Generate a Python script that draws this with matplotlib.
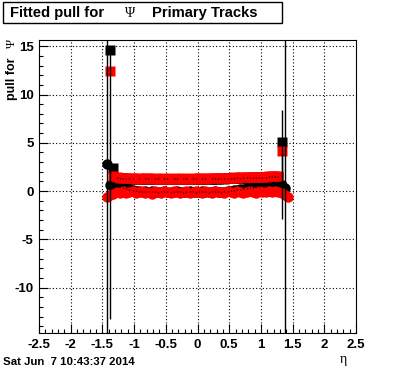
import numpy as np
import matplotlib
matplotlib.use("Agg")
import matplotlib.pyplot as plt
from matplotlib.ticker import MultipleLocator

# bin centres in eta
eta = [-1.425, -1.375, -1.325, -1.275, -1.225, -1.175, -1.125, -1.075, -1.025, -0.975,
       -0.925, -0.875, -0.825, -0.775, -0.725, -0.675, -0.625, -0.575, -0.525, -0.475,
       -0.425, -0.375, -0.325, -0.275, -0.225, -0.175, -0.125, -0.075, -0.025, 0.025,
       0.075, 0.125, 0.175, 0.225, 0.275, 0.325, 0.375, 0.425, 0.475, 0.525,
       0.575, 0.625, 0.675, 0.725, 0.775, 0.825, 0.875, 0.925, 0.975, 1.025,
       1.075, 1.125, 1.175, 1.225, 1.275, 1.325, 1.375, 1.425]
nan = float("nan")

# black: fitted mean (circles) and sigma (squares)
black_mean = [2.8, 0.6, 0.55, 0.5, 0.45, 0.4, 0.3, 0.2, 0.1, 0.05,
              0.0, -0.05, 0.0, -0.05, 0.0, -0.05, -0.1, -0.05, 0.0, -0.05,
              -0.1, -0.05, 0.0, -0.05, -0.1, -0.05, 0.0, -0.05, -0.1, -0.05,
              0.0, -0.05, -0.1, -0.05, 0.0, -0.05, -0.1, -0.05, 0.0, 0.05,
              0.1, 0.15, 0.2, 0.25, 0.3, 0.35, 0.4, 0.45, 0.5, 0.55,
              0.6, 0.7, 0.75, 0.8, 0.8, 0.6, 0.3, nan]
black_mean_err = [40, 13.9, 0.05, 0.05, 0.05, 0.05, 0.05, 0.05, 0.05, 0.05,
                  0.05, 0.05, 0.05, 0.05, 0.05, 0.05, 0.05, 0.05, 0.05, 0.05,
                  0.05, 0.05, 0.05, 0.05, 0.05, 0.05, 0.05, 0.05, 0.05, 0.05,
                  0.05, 0.05, 0.05, 0.05, 0.05, 0.05, 0.05, 0.05, 0.05, 0.05,
                  0.05, 0.05, 0.05, 0.05, 0.05, 0.05, 0.05, 0.05, 0.05, 0.05,
                  0.05, 0.05, 0.05, 0.05, 0.05, 3.5, 40, 0]
black_sigma = [nan, 14.6, 2.4, 1.4, 1.35, 1.35, 1.3, 1.3, 1.3, 1.25,
               1.3, 1.25, 1.3, 1.3, 1.25, 1.3, 1.3, 1.25, 1.3, 1.3,
               1.25, 1.3, 1.3, 1.25, 1.3, 1.3, 1.25, 1.3, 1.3, 1.25,
               1.3, 1.3, 1.25, 1.3, 1.3, 1.3, 1.35, 1.3, 1.35, 1.35,
               1.35, 1.4, 1.35, 1.4, 1.4, 1.4, 1.45, 1.4, 1.45, 1.45,
               1.45, 1.5, 1.5, 1.5, 1.5, 5.1, nan, nan]
black_sigma_err = [0, 0.1, 0.05, 0.05, 0.05, 0.05, 0.05, 0.05, 0.05, 0.05,
                   0.05, 0.05, 0.05, 0.05, 0.05, 0.05, 0.05, 0.05, 0.05, 0.05,
                   0.05, 0.05, 0.05, 0.05, 0.05, 0.05, 0.05, 0.05, 0.05, 0.05,
                   0.05, 0.05, 0.05, 0.05, 0.05, 0.05, 0.05, 0.05, 0.05, 0.05,
                   0.05, 0.05, 0.05, 0.05, 0.05, 0.05, 0.05, 0.05, 0.05, 0.05,
                   0.05, 0.05, 0.05, 0.05, 0.05, 3.3, 0, 0]

# red: fitted mean (circles) and sigma (squares)
red_mean = [-0.6, -0.4, -0.3, -0.1, -0.2, 0.0, -0.2, -0.1, 0.0, -0.2,
            -0.1, 0.0, -0.2, -0.1, -0.3, 0.0, -0.1, -0.2, 0.0, -0.1,
            -0.2, 0.0, -0.1, -0.2, -0.1, 0.0, -0.2, -0.1, 0.0, -0.1,
            -0.2, 0.0, -0.1, -0.2, 0.0, -0.1, -0.1, -0.2, 0.0, -0.1,
            -0.2, 0.0, -0.1, -0.2, -0.1, 0.0, -0.1, -0.2, 0.0, -0.1,
            -0.1, 0.0, -0.1, 0.0, -0.1, -0.2, -0.4, -0.6]
red_sigma = [nan, 12.4, 1.55, 1.45, 1.4, 1.4, 1.35, 1.35, 1.35, 1.3,
             1.35, 1.3, 1.35, 1.35, 1.3, 1.35, 1.3, 1.3, 1.35, 1.3,
             1.3, 1.35, 1.3, 1.3, 1.35, 1.3, 1.3, 1.35, 1.3, 1.35,
             1.35, 1.3, 1.35, 1.35, 1.4, 1.35, 1.4, 1.4, 1.4, 1.4,
             1.45, 1.4, 1.45, 1.45, 1.45, 1.45, 1.5, 1.5, 1.5, 1.5,
             1.5, 1.55, 1.55, 1.55, 1.6, 4.2, nan, nan]

x_ticks = [-2.5, -2, -1.5, -1, -0.5, 0, 0.5, 1, 1.5, 2, 2.5]
x_ticklabels = ["-2.5", "-2", "-1.5", "-1", "-0.5", "0", "0.5", "1", "1.5", "2", "2.5"]
y_ticks = [-10, -5, 0, 5, 10, 15]
y_ticklabels = ["-10", "-5", "0", "5", "10", "15"]

W, H = 396, 372
fig = plt.figure(figsize=(W / 100, H / 100), dpi=100)
ax = fig.add_axes([39 / W, 1 - 333 / H, (356 - 39) / W, (333 - 39.5) / H])
ax.set_xlim(-2.5, 2.5)
ax.set_ylim(-14.7, 15.7)

sans = ["Liberation Sans", "DejaVu Sans"]
serif = ["Liberation Serif", "DejaVu Serif"]

# grid
for xv in x_ticks[1:-1]:
    ax.axvline(xv, color="black", lw=0.8, ls=(0, (1, 2)), zorder=1)
for yv in y_ticks:
    ax.axhline(yv, color="black", lw=0.8, ls=(0, (1, 2)), zorder=1)

ms_sq = 7.0
ms_c = 7.5
ax.plot(eta, black_mean, "o", color="black", ms=ms_c, mec="none", zorder=3)
ax.plot(eta, black_sigma, "s", color="black", ms=ms_sq, mec="none", zorder=3)
ax.plot(eta, red_mean, "o", color="red", ms=ms_c, mec="none", zorder=4)
ax.plot(eta, red_sigma, "s", color="red", ms=ms_sq, mec="none", zorder=4)
ax.errorbar(eta, black_mean, yerr=black_mean_err, fmt="none", ecolor="black",
            elinewidth=1.0, capsize=0, zorder=5)
ax.errorbar(eta, black_sigma, yerr=black_sigma_err, fmt="none", ecolor="black",
            elinewidth=1.0, capsize=0, zorder=5)

ax.set_xticks(x_ticks)
ax.set_xticklabels(x_ticklabels)
ax.set_yticks(y_ticks)
ax.set_yticklabels(y_ticklabels)
ax.xaxis.set_minor_locator(MultipleLocator(0.1))
ax.yaxis.set_minor_locator(MultipleLocator(1))
ax.tick_params(which="both", direction="in", top=False, right=False, width=0.8)
ax.tick_params(which="major", length=6.5, pad=4)
ax.tick_params(which="minor", length=3.2)
for lab in ax.get_xticklabels() + ax.get_yticklabels():
    lab.set_fontfamily(sans)
    lab.set_fontweight("bold")
    lab.set_fontsize(9.5)
for s in ax.spines.values():
    s.set_linewidth(0.8)

# title box
fig.patches.append(plt.Rectangle((3 / W, 1 - 23 / H), (282 - 3) / W, 21 / H,
                                 transform=fig.transFigure, fill=False,
                                 edgecolor="black", lw=1.0))
fig.text(10 / W, 1 - 17 / H, "Fitted pull for", family=sans, weight="bold",
         fontsize=10.6, ha="left", va="baseline")
fig.text(125 / W, 1 - 17 / H, "\u03a8", family=serif, fontsize=10,
         ha="left", va="baseline")
fig.text(152 / W, 1 - 17 / H, "Primary Tracks", family=sans, weight="bold",
         fontsize=10.6, ha="left", va="baseline")

# axis titles
fig.text(12 / W, 1 - 57 / H, "pull for", family=sans, weight="bold", fontsize=9,
         rotation=90, ha="center", va="top")
fig.text(12 / W, 1 - 39 / H, "\u03a8", family=serif, fontsize=9,
         rotation=90, ha="center", va="top")
fig.text(347 / W, 1 - 363 / H, "\u03b7", family=serif, fontsize=10,
         ha="right", va="baseline")
fig.text(3 / W, 1 - 365 / H, "Sat Jun  7 10:43:37 2014", family=sans,
         weight="bold", fontsize=8.2, ha="left", va="baseline")

fig.savefig("out.png", dpi=100)
